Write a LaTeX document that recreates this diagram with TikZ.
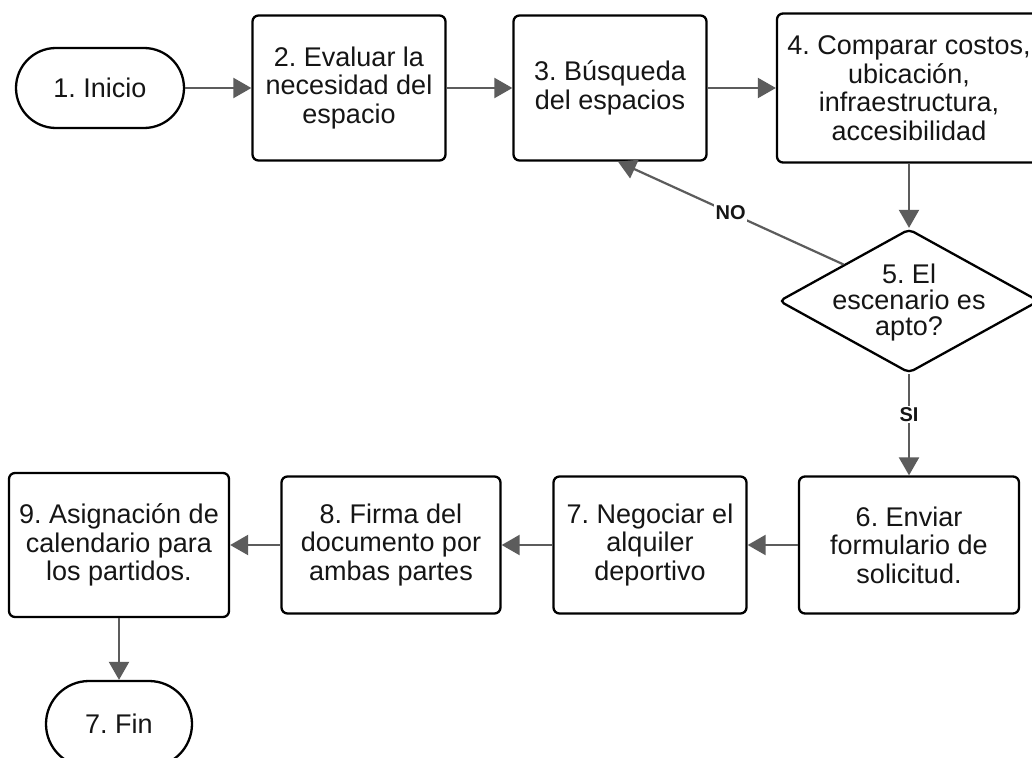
\documentclass[tikz,border=0pt]{standalone}
\usepackage{fontspec}
\setmainfont{Liberation Sans}
\usetikzlibrary{arrows.meta,shapes.geometric}
\definecolor{arr}{HTML}{5C5C5C}
\definecolor{txt}{HTML}{151515}
\frenchspacing
\begin{document}
\begin{tikzpicture}[x=1pt,y=-1pt,
  box/.style={draw=black, line width=2.3pt, rounded corners=6pt, fill=white, align=center,
    text=txt, font=\frenchspacing\fontsize{27}{28.5}\selectfont, inner sep=0pt},
  term/.style={draw=black, line width=2.3pt, fill=white, align=center, text=txt,
    font=\frenchspacing\fontsize{27}{28.5}\selectfont, inner sep=0pt},
  dec/.style={draw=black, line width=2.3pt, fill=white, diamond, rounded corners=5pt,
    minimum width=260pt, minimum height=144pt, inner sep=0pt},
  dectext/.style={align=center, text=txt, font=\frenchspacing\fontsize{27}{26}\selectfont, inner sep=0pt},
  conn/.style={draw=arr, line width=2.2pt, -{Triangle[length=18pt,width=20pt]}},
  lab/.style={fill=white, text=txt, font=\bfseries\fontsize{20}{20}\selectfont, inner sep=1.5pt}]
\clip (0,0) rectangle (1032,757);
\fill[white] (0,0) rectangle (1032,757);

\node[term, rounded corners=40pt, minimum width=168pt, minimum height=80pt] (n1) at (100,88) {1. Inicio};
\node[box, minimum width=193pt, minimum height=145pt] (n2) at (349,88) {2. Evaluar la\\necesidad del\\espacio};
\node[box, minimum width=193pt, minimum height=145pt] (n3) at (610,88) {3. Búsqueda\\del espacios};
\node[box, minimum width=264pt, minimum height=149pt] (n4) at (909,88) {4. Comparar costos,\\ubicación,\\infraestructura,\\accesibilidad};
\node[dec] (n5) at (909,301) {};
\node[dectext] (n5t) at (909,303) {5. El\\escenario es\\apto?};
\node[box, minimum width=220pt, minimum height=137pt] (n6) at (909,545) {6. Enviar\\formulario de\\solicitud.};
\node[box, minimum width=193pt, minimum height=137pt] (n7) at (650,545) {7. Negociar el\\alquiler\\deportivo};
\node[box, minimum width=219pt, minimum height=137pt] (n8) at (391,545) {8. Firma del\\documento por\\ambas partes};
\node[box, minimum width=220pt, minimum height=144pt] (n9) at (119,545) {9. Asignación de\\calendario para\\los partidos.};
\node[term, rounded corners=43pt, minimum width=146pt, minimum height=86pt] (n10) at (119,724) {7. Fin};

\draw[conn] (n1) -- (n2);
\draw[conn] (n2) -- (n3);
\draw[conn] (n3) -- (n4);
\draw[conn] (n4) -- (n5);
\draw[conn] (n5.north west) -- node[lab, pos=0.5] {NO} ([xshift=8pt]n3.south);
\draw[conn] (n5.south) -- node[lab, pos=0.4] {SI} (n6.north);
\draw[conn] (n6) -- (n7);
\draw[conn] (n7) -- (n8);
\draw[conn] (n8) -- (n9);
\draw[conn] (n9) -- (n10);
\end{tikzpicture}
\end{document}
